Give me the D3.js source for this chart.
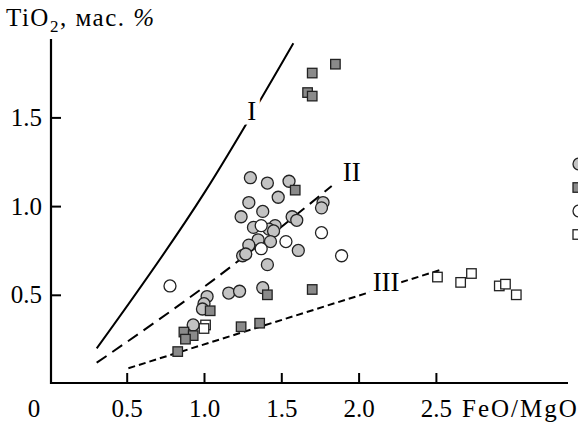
<!DOCTYPE html>
<html>
<head>
<meta charset="utf-8">
<script src="https://cdn.jsdelivr.net/npm/d3@7"></script>
<style>
  body { margin: 0; background: #fff; }
  svg { display: block; }
  svg text { font-family: "Liberation Serif", "Times New Roman", "DejaVu Serif", serif; }
</style>
</head>
<body>
<div id="chart"></div>
<script>
var xTicks = [0.5, 1.0, 1.5, 2.0, 2.5];
var yTicks = [0.5, 1.0, 1.5];

// FeO/MgO, TiO2
var grayCircles = [
  [1.30, 1.16], [1.41, 1.13], [1.55, 1.14], [1.29, 1.02], [1.48, 1.05],
  [1.77, 1.02], [1.76, 0.99], [1.24, 0.94], [1.38, 0.97], [1.57, 0.94],
  [1.60, 0.92], [1.32, 0.88], [1.46, 0.89], [1.42, 0.87], [1.45, 0.86],
  [1.35, 0.81], [1.43, 0.80], [1.29, 0.78], [1.61, 0.75], [1.25, 0.72],
  [1.27, 0.73], [1.41, 0.67], [1.16, 0.51], [1.23, 0.52], [1.38, 0.54],
  [1.02, 0.49], [1.00, 0.45], [0.99, 0.42], [0.93, 0.33]
];
var openCircles = [
  [0.78, 0.55], [1.37, 0.89], [1.76, 0.85], [1.53, 0.80], [1.37, 0.76], [1.89, 0.72]
];
var graySquares = [
  [1.85, 1.80], [1.70, 1.75], [1.67, 1.64], [1.70, 1.62], [1.59, 1.09],
  [1.41, 0.50], [1.70, 0.53], [1.04, 0.41], [0.87, 0.29], [0.93, 0.27],
  [0.88, 0.25], [0.83, 0.18], [1.24, 0.32], [1.36, 0.34]
];
var openSquares = [
  [1.01, 0.33], [1.00, 0.31], [2.51, 0.60], [2.66, 0.57], [2.73, 0.62],
  [2.91, 0.55], [2.95, 0.56], [3.02, 0.50]
];

var lineI = [[0.306, 0.198], [1.006, 1.08], [1.578, 1.918]];
var lineII = [[0.306, 0.117], [1.06, 0.583], [1.826, 1.113]];
var lineIII = [[0.511, 0.086], [2.546, 0.645]];
var lineLabels = [
  {text: "I", x: 1.309, y: 1.541},
  {text: "II", x: 1.956, y: 1.194},
  {text: "III", x: 2.178, y: 0.572}
];

var width = 578, height = 426;

var svg = d3.select("#chart").append("svg")
  .attr("width", width)
  .attr("height", height);

var x = d3.scaleLinear().domain([0, 3]).range([49.4, 513.2]);
var y = d3.scaleLinear().domain([0, 1.5]).range([383.5, 117.4]);

var axisX = 51, axisY = 383;

// axes
var gx = svg.append("g")
  .attr("transform", "translate(0," + axisY + ")")
  .call(d3.axisBottom(x).tickValues(xTicks).tickSize(-10).tickPadding(16).tickFormat(d3.format(".1f")))
  .attr("font-family", null);
gx.select(".domain").remove();
gx.selectAll(".tick line").attr("stroke", "#000").attr("stroke-width", 2);
gx.selectAll(".tick text").attr("font-size", 25).attr("fill", "#000");

var gy = svg.append("g")
  .attr("transform", "translate(" + axisX + ",0)")
  .call(d3.axisLeft(y).tickValues(yTicks).tickSize(-10).tickPadding(9).tickFormat(d3.format(".1f")))
  .attr("font-family", null);
gy.select(".domain").remove();
gy.selectAll(".tick line").attr("stroke", "#000").attr("stroke-width", 2);
gy.selectAll(".tick text").attr("font-size", 25).attr("fill", "#000");

svg.append("line")
  .attr("x1", axisX).attr("x2", 568)
  .attr("y1", axisY).attr("y2", axisY)
  .attr("stroke", "#000").attr("stroke-width", 2.2);
svg.append("line")
  .attr("x1", axisX).attr("x2", axisX)
  .attr("y1", 39).attr("y2", axisY + 1)
  .attr("stroke", "#000").attr("stroke-width", 2.2);

svg.append("text")
  .attr("x", 34).attr("y", 417)
  .attr("text-anchor", "middle")
  .attr("font-size", 25)
  .text("0");

svg.append("text")
  .attr("x", 462).attr("y", 417)
  .attr("font-size", 25)
  .attr("letter-spacing", 2)
  .text("FeO/MgO");

var title = svg.append("text")
  .attr("x", 6).attr("y", 26)
  .attr("font-size", 25)
  .attr("letter-spacing", 1.5);
title.append("tspan").text("TiO");
title.append("tspan").attr("font-size", 17).attr("dy", 6).text("2");
title.append("tspan").attr("dy", -6).text(", мас. ");
title.append("tspan").attr("font-style", "italic").text("%");

// reference lines
var line = d3.line()
  .curve(d3.curveMonotoneX)
  .x(function(d) { return x(d[0]); })
  .y(function(d) { return y(d[1]); });

svg.append("path").attr("d", line(lineI))
  .attr("fill", "none").attr("stroke", "#000").attr("stroke-width", 2);
svg.append("path").attr("d", line(lineII))
  .attr("fill", "none").attr("stroke", "#000").attr("stroke-width", 2)
  .attr("stroke-dasharray", "12,7");
svg.append("path").attr("d", line(lineIII))
  .attr("fill", "none").attr("stroke", "#000").attr("stroke-width", 2)
  .attr("stroke-dasharray", "7,4");

svg.selectAll(".line-label")
  .data(lineLabels)
  .enter().append("text")
  .attr("class", "line-label")
  .attr("x", function(d) { return x(d.x); })
  .attr("y", function(d) { return y(d.y); })
  .attr("dy", "0.35em")
  .attr("text-anchor", "middle")
  .attr("font-size", 27)
  .attr("stroke", "#fff")
  .attr("stroke-width", 9)
  .attr("paint-order", "stroke")
  .attr("fill", "#000")
  .text(function(d) { return d.text; });

// markers
var grayFill = "#c3c3c3", darkFill = "#8a8a8a", edge = "#222";
var r = 6, side = 9.5;

function drawCircles(data, fill) {
  svg.append("g").selectAll("circle")
    .data(data)
    .enter().append("circle")
    .attr("cx", function(d) { return x(d[0]); })
    .attr("cy", function(d) { return y(d[1]); })
    .attr("r", r)
    .attr("fill", fill)
    .attr("stroke", edge)
    .attr("stroke-width", 1.3);
}

function drawSquares(data, fill) {
  svg.append("g").selectAll("rect")
    .data(data)
    .enter().append("rect")
    .attr("x", function(d) { return x(d[0]) - side / 2; })
    .attr("y", function(d) { return y(d[1]) - side / 2; })
    .attr("width", side)
    .attr("height", side)
    .attr("fill", fill)
    .attr("stroke", edge)
    .attr("stroke-width", 1.3);
}

drawCircles(grayCircles, grayFill);
drawCircles(openCircles, "#fff");
drawSquares(graySquares, darkFill);
drawSquares(openSquares, "#fff");

// legend (cut by the right edge)
var legendItems = [
  {shape: "circle", fill: grayFill},
  {shape: "square", fill: darkFill},
  {shape: "circle", fill: "#fff"},
  {shape: "square", fill: "#fff"}
];
var legend = svg.append("g").attr("transform", "translate(573,164)");
legendItems.forEach(function(item, i) {
  var cy = i * 23.5;
  if (item.shape == "circle") {
    legend.append("circle")
      .attr("cx", r).attr("cy", cy).attr("r", r)
      .attr("fill", item.fill).attr("stroke", edge).attr("stroke-width", 1.3);
  } else {
    legend.append("rect")
      .attr("x", 0).attr("y", cy - side / 2)
      .attr("width", side).attr("height", side)
      .attr("fill", item.fill).attr("stroke", edge).attr("stroke-width", 1.3);
  }
});
</script>
</body>
</html>
